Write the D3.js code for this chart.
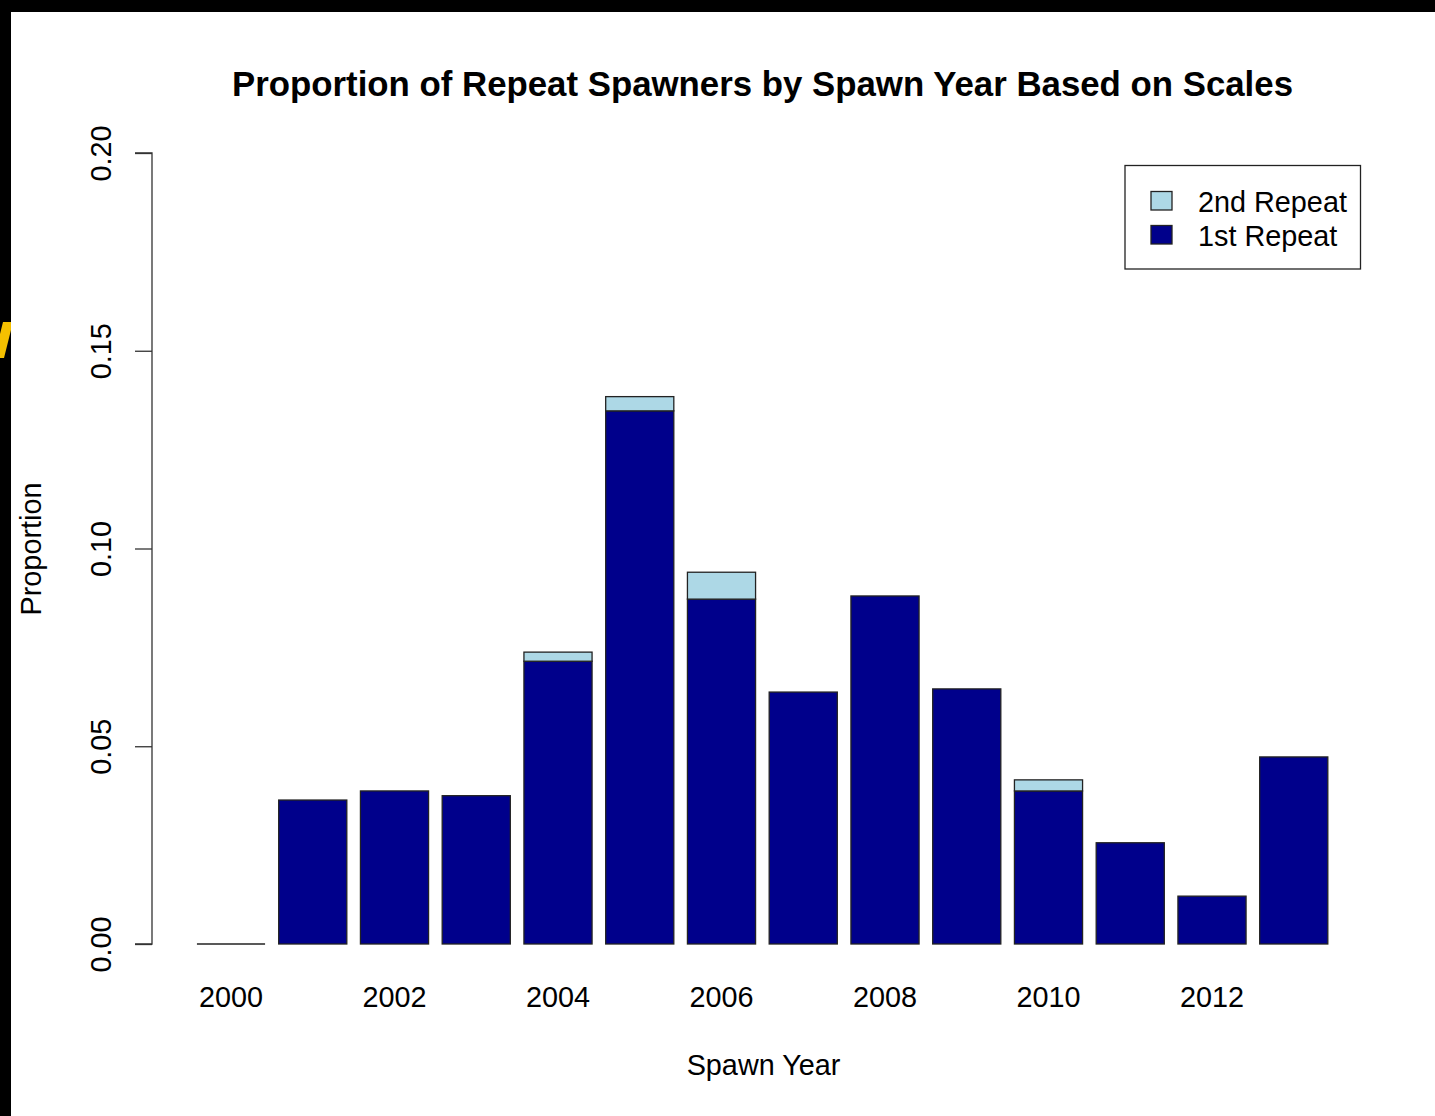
<!DOCTYPE html>
<html>
<head>
<meta charset="utf-8">
<script src="https://cdn.jsdelivr.net/npm/d3@7"></script>
<style>
  html, body { margin: 0; padding: 0; background: #000; }
  svg { display: block; }
  text { font-family: "Liberation Sans", Arial, sans-serif; fill: #000; }
</style>
</head>
<body>
<script>
// Spawn years and the proportion of repeat spawners in each
const years = [2000, 2001, 2002, 2003, 2004, 2005, 2006, 2007, 2008, 2009, 2010, 2011, 2012, 2013];
const firstRepeat  = [0, 0.0364, 0.0387, 0.0375, 0.0715, 0.1348, 0.0872, 0.0637, 0.0880, 0.0645, 0.0387, 0.0256, 0.0121, 0.0473];
const secondRepeat = [0, 0, 0, 0, 0.0023, 0.0036, 0.0068, 0, 0, 0, 0.0028, 0, 0, 0];
const yTicks = [0.00, 0.05, 0.10, 0.15, 0.20];
const xLabelYears = [2000, 2002, 2004, 2006, 2008, 2010, 2012];
const seriesNames = ["1st Repeat", "2nd Repeat"];
const seriesColors = { "1st Repeat": "#00008B", "2nd Repeat": "#ADD8E6" };

const W = 1435, H = 1116;
const svg = d3.select("body").append("svg").attr("width", W).attr("height", H);

// page frame
svg.append("rect").attr("x", 0).attr("y", 0).attr("width", W).attr("height", H).attr("fill", "#000");
svg.append("rect").attr("x", 11).attr("y", 12).attr("width", W - 11).attr("height", H - 12).attr("fill", "#fff");
svg.append("polygon").attr("points", "3,322 11,322 11,330 4,358 0,358 0,334").attr("fill", "#F5C000");

// scales
const y = d3.scaleLinear().domain([0, 0.2]).range([944, 153]);
const step = 81.75;
const x = d3.scaleLinear().domain([0, years.length - 1]).range([231, 231 + step * (years.length - 1)]);
const barW = step / 1.2;

// stacked bars
const rows = years.map((yr, i) => ({ year: yr, i, "1st Repeat": firstRepeat[i], "2nd Repeat": secondRepeat[i] }));
const stacked = d3.stack().keys(seriesNames)(rows);

const g = svg.append("g");
stacked.forEach(layer => {
  const segs = layer.filter(d => d[1] - d[0] > 0);
  g.selectAll(null)
    .data(segs)
    .enter().append("rect")
    .attr("x", d => x(d.data.i) - barW / 2)
    .attr("width", barW)
    .attr("y", d => y(d[1]))
    .attr("height", d => y(d[0]) - y(d[1]))
    .attr("fill", seriesColors[layer.key])
    .attr("stroke", "#222")
    .attr("stroke-width", 1.3);
});

// bars with no repeat spawners collapse to a flat outline on the baseline
g.selectAll("line.zero")
  .data(rows.filter(d => d["1st Repeat"] + d["2nd Repeat"] === 0))
  .enter().append("line").attr("class", "zero")
  .attr("x1", d => x(d.i) - barW / 2)
  .attr("x2", d => x(d.i) + barW / 2)
  .attr("y1", y(0)).attr("y2", y(0))
  .attr("stroke", "#222").attr("stroke-width", 1.3);

// y axis
const yAxis = svg.append("g").attr("transform", "translate(152,0)")
  .call(d3.axisLeft(y).tickValues(yTicks).tickSize(17).tickFormat(d3.format(".2f")).tickPadding(6));
yAxis.select(".domain").attr("stroke", "#333").attr("stroke-width", 1.3).attr("d", `M-17,${y(0.2)}H0V${y(0)}H-17`);
yAxis.selectAll(".tick line").attr("stroke", "#333").attr("stroke-width", 1.3);
yAxis.selectAll(".tick text")
  .attr("font-size", 28.8)
  .attr("font-family", "Liberation Sans, Arial, sans-serif")
  .attr("text-anchor", "middle")
  .attr("x", null).attr("dy", null)
  .attr("transform", "translate(-41,0) rotate(-90)");

// x labels
svg.append("g").selectAll("text")
  .data(xLabelYears).enter().append("text")
  .attr("x", d => x(years.indexOf(d)))
  .attr("y", 1007)
  .attr("text-anchor", "middle")
  .attr("font-size", 28.8)
  .text(d => d);

// title and axis titles
svg.append("text").attr("x", 762.5).attr("y", 95.5).attr("text-anchor", "middle")
  .attr("font-size", 34.8).attr("font-weight", "bold")
  .text("Proportion of Repeat Spawners by Spawn Year Based on Scales");
svg.append("text").attr("x", 763.5).attr("y", 1075).attr("text-anchor", "middle")
  .attr("font-size", 28.8).text("Spawn Year");
svg.append("text").attr("transform", "translate(41,549) rotate(-90)").attr("text-anchor", "middle")
  .attr("font-size", 28.8).text("Proportion");

// legend
const legend = svg.append("g");
legend.append("rect").attr("x", 1125).attr("y", 165.5).attr("width", 235.5).attr("height", 103.5)
  .attr("fill", "#fff").attr("stroke", "#222").attr("stroke-width", 1.3);
const legendItems = ["2nd Repeat", "1st Repeat"];
legend.selectAll("g.item").data(legendItems).enter().append("g").attr("class", "item")
  .each(function (d, k) {
    const gi = d3.select(this);
    const cy = 201 + k * 34;
    gi.append("rect").attr("x", 1151).attr("y", cy - 9.5).attr("width", 21).attr("height", 18.5)
      .attr("fill", seriesColors[d]).attr("stroke", "#222").attr("stroke-width", 1.3);
    gi.append("text").attr("x", 1198).attr("y", cy + 11).attr("font-size", 28.8).text(d);
  });
</script>
</body>
</html>
